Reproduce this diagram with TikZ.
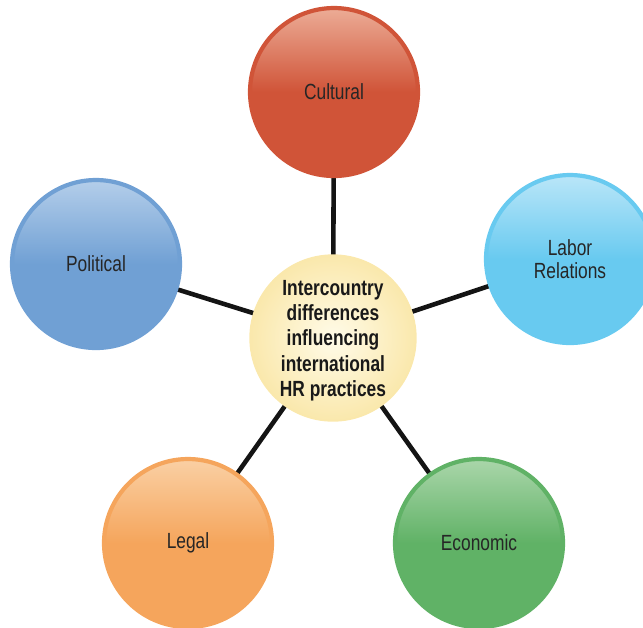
\documentclass[tikz,border=0pt]{standalone}
\usepackage{fontspec}
\setmainfont{Liberation Sans}[FakeStretch=0.79]
\usepackage{xcolor}
\usetikzlibrary{backgrounds}
\definecolor{hredge}{RGB}{20,20,20}
\definecolor{cultrim}{RGB}{208,84,56}
\definecolor{cultlt}{RGB}{236,172,150}
\definecolor{laborrim}{RGB}{104,202,240}
\definecolor{laborlt}{RGB}{186,230,248}
\definecolor{politrim}{RGB}{112,160,212}
\definecolor{politlt}{RGB}{180,206,234}
\definecolor{legalrim}{RGB}{245,165,92}
\definecolor{legallt}{RGB}{250,208,164}
\definecolor{econrim}{RGB}{96,178,102}
\definecolor{econlt}{RGB}{170,214,170}
\definecolor{hubout}{RGB}{250,232,172}
\definecolor{hubin}{RGB}{255,251,232}
\tikzset{
  bubble/.style={
    circle, minimum size=3.36cm, inner sep=0pt, align=center,
    font=\fontsize{12.5}{13.4}\selectfont, text=black!85, line width=2.4pt
  },
  tint/.style 2 args={bubble, draw=#1, top color=#2, bottom color=#1, middle color=#1},
  hubnode/.style={
    circle, minimum size=3.32cm, inner sep=0pt, align=center,
    font=\bfseries\fontsize{12.5}{14.4}\selectfont, text=black!90,
    inner color=hubin, outer color=hubout, draw=hubout, line width=0.8pt
  },
  spoke/.style={draw=hredge, line width=2.6pt}
}
\begin{document}
\begin{tikzpicture}[x=0.02cm,y=-0.02cm]
  \useasboundingbox (0,0) rectangle (643,627);
  \node[hubnode] (hub) at (333,338)
    {\raisebox{-4.5pt}[0pt][0pt]{\begin{tabular}{@{}c@{}}Intercountry\\differences\\influencing\\international\\HR practices\end{tabular}}};
  \node[tint={cultrim}{cultlt}] (cult) at (334,92) {Cultural};
  \node[tint={laborrim}{laborlt}] (labor) at (570,259) {Labor\\Relations};
  \node[tint={politrim}{politlt}] (polit) at (96,264) {Political};
  \node[tint={legalrim}{legallt}] (legal) at (188,543) {Legal};
  \node[tint={econrim}{econlt}] (econ) at (479,543) {Economic};
  \begin{scope}[on background layer]
    \foreach \n in {cult,labor,polit,legal,econ}
      \draw[spoke] (hub.center) -- (\n.center);
  \end{scope}
\end{tikzpicture}
\end{document}
